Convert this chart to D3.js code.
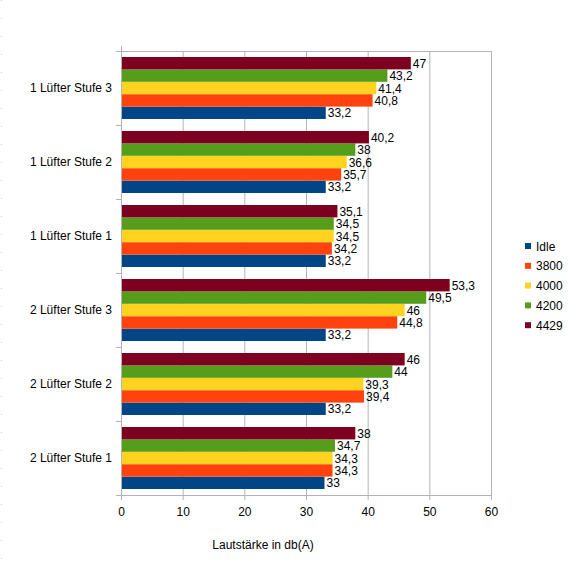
<!DOCTYPE html>
<html>
<head>
<meta charset="utf-8">
<script src="https://cdn.jsdelivr.net/npm/d3@7"></script>
<style>
  body { margin: 0; background: #fff; }
  text { font-family: "Liberation Sans", Arial, sans-serif; }
</style>
</head>
<body>
<script>
// categories top to bottom
var categories = ["1 Lüfter Stufe 3", "1 Lüfter Stufe 2", "1 Lüfter Stufe 1",
                  "2 Lüfter Stufe 3", "2 Lüfter Stufe 2", "2 Lüfter Stufe 1"];
var seriesNames = ["Idle", "3800", "4000", "4200", "4429"];
var idle   = [33.2, 33.2, 33.2, 33.2, 33.2, 33];
var s3800  = [40.8, 35.7, 34.2, 44.8, 39.4, 34.3];
var s4000  = [41.4, 36.6, 34.5, 46, 39.3, 34.3];
var s4200  = [43.2, 38, 34.5, 49.5, 44, 34.7];
var s4429  = [47, 40.2, 35.1, 53.3, 46, 38];
var xTicks = [0, 10, 20, 30, 40, 50, 60];
var colors = ["#004586", "#ff420e", "#ffd320", "#579d1c", "#7e0021"];
var axisTitle = "Lautstärke in db(A)";

var values = [idle, s3800, s4000, s4200, s4429];

var W = 569, H = 568;
var margin = { top: 51, left: 121, right: 78, bottom: 73 };
var width = W - margin.left - margin.right,
    height = H - margin.top - margin.bottom;

var svg = d3.select("body").append("svg")
    .attr("width", W)
    .attr("height", H);

// faint dotted edge on the left
svg.append("line")
    .attr("x1", 1.5).attr("x2", 1.5)
    .attr("y1", 0).attr("y2", H)
    .attr("stroke", "#d0d0d0")
    .attr("stroke-dasharray", "1,17");

var g = svg.append("g")
    .attr("transform", "translate(" + margin.left + "," + margin.top + ")");

var x = d3.scaleLinear().domain([0, 60]).range([0, width]);

var y0 = d3.scaleBand().domain(categories).range([0, height]).padding(0);

// 4429 on top, Idle at bottom
var y1 = d3.scaleBand()
    .domain(seriesNames.slice().reverse())
    .range([6, y0.bandwidth() - 6]);

var gridColor = "#b3b3b3";

// gridlines
g.selectAll(".grid")
    .data(xTicks.slice(1))
    .enter().append("line")
    .attr("x1", function (d) { return x(d) + 0.5; })
    .attr("x2", function (d) { return x(d) + 0.5; })
    .attr("y1", 0)
    .attr("y2", height)
    .attr("stroke", gridColor);

// top border
g.append("line")
    .attr("x1", 0).attr("x2", width + 0.5)
    .attr("y1", 0.5).attr("y2", 0.5)
    .attr("stroke", gridColor);

// bars
var rows = [];
categories.forEach(function (c, i) {
    seriesNames.forEach(function (s, j) {
        rows.push({ cat: c, series: s, value: values[j][i], color: colors[j] });
    });
});

g.selectAll(".bar")
    .data(rows)
    .enter().append("rect")
    .attr("x", 0)
    .attr("y", function (d) { return y0(d.cat) + y1(d.series); })
    .attr("width", function (d) { return x(d.value); })
    .attr("height", y1.bandwidth())
    .attr("fill", function (d) { return d.color; });

var fmt = function (v) { return String(v).replace(".", ","); };

g.selectAll(".val")
    .data(rows)
    .enter().append("text")
    .attr("x", function (d) { return x(d.value) + 2; })
    .attr("y", function (d) { return y0(d.cat) + y1(d.series) + y1.bandwidth() / 2 + 4.5; })
    .attr("font-size", "12px")
    .attr("fill", "#000")
    .text(function (d) { return fmt(d.value); });

// x axis
var xAxis = d3.axisBottom(x).tickValues(xTicks).tickSize(5).tickPadding(7);
var gx = g.append("g")
    .attr("transform", "translate(0," + height + ")")
    .call(xAxis);
gx.select(".domain").attr("stroke", gridColor).attr("d", "M0.5,0.5H" + (width + 0.5));
gx.selectAll(".tick line").attr("stroke", gridColor);
gx.selectAll(".tick text")
    .attr("font-size", "12px")
    .attr("fill", "#000")
    .attr("font-family", "'Liberation Sans', Arial, sans-serif");

// y axis
var yAxis = d3.axisLeft(y0).tickSize(0).tickPadding(9);
var gy = g.append("g").call(yAxis);
gy.select(".domain").attr("stroke", gridColor).attr("d", "M0.5,-5V" + (height + 5));
gy.selectAll(".tick text")
    .attr("font-size", "12px")
    .attr("fill", "#000")
    .attr("font-family", "'Liberation Sans', Arial, sans-serif");

// y category separators
g.selectAll(".ysep")
    .data(d3.range(categories.length + 1))
    .enter().append("line")
    .attr("x1", -5).attr("x2", 0)
    .attr("y1", function (i) { return i * y0.step() + 0.5; })
    .attr("y2", function (i) { return i * y0.step() + 0.5; })
    .attr("stroke", gridColor);

// axis title
svg.append("text")
    .attr("x", 263)
    .attr("y", 549)
    .attr("text-anchor", "middle")
    .attr("font-size", "12px")
    .attr("fill", "#000")
    .text(axisTitle);

// legend
var legend = svg.append("g").attr("transform", "translate(525,246)");
var items = legend.selectAll(".item")
    .data(seriesNames)
    .enter().append("g")
    .attr("transform", function (d, i) { return "translate(0," + (i * 19.8) + ")"; });
items.append("rect")
    .attr("x", 0).attr("y", -3)
    .attr("width", 6).attr("height", 6)
    .attr("fill", function (d, i) { return colors[i]; });
items.append("text")
    .attr("x", 11).attr("y", 4.5)
    .attr("font-size", "12px")
    .attr("fill", "#000")
    .text(function (d) { return d; });
</script>
</body>
</html>
